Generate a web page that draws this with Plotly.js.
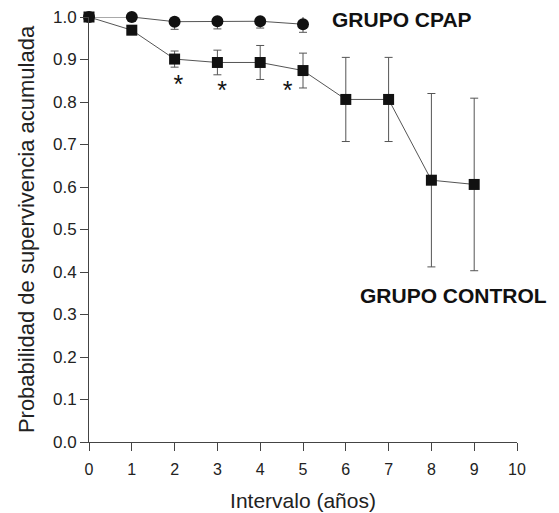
<!DOCTYPE html>
<html><head><meta charset="utf-8">
<script src="https://cdn.plot.ly/plotly-3.0.1.min.js"></script>
<style>body{margin:0;padding:0;background:#fff}</style>
</head><body>
<div id="chart" style="width:559px;height:513px"></div>
<script>
var cpapX = [0, 1, 2, 3, 4, 5];
var cpapY = [1.0, 1.0, 0.989, 0.990, 0.990, 0.983];
var cpapErr = [0, 0, 0.018, 0.018, 0.016, 0.019];

var ctrlX = [0, 1, 2, 3, 4, 5, 6, 7, 8, 9];
var ctrlY = [1.0, 0.969, 0.901, 0.893, 0.893, 0.874, 0.806, 0.806, 0.616, 0.606];
var ctrlErr = [0, 0, 0.019, 0.029, 0.040, 0.041, 0.099, 0.099, 0.204, 0.203];

var starX = [2.09, 3.11, 4.64];
var starY = [0.835, 0.822, 0.822];

var xTicks = [0,1,2,3,4,5,6,7,8,9,10];
var yTicks = [0,0.1,0.2,0.3,0.4,0.5,0.6,0.7,0.8,0.9,1.0];

var lineCol = '#555';
var markCol = '#111';

var traces = [
  {x: cpapX, y: cpapY, mode: 'lines+markers', type: 'scatter', cliponaxis: false,
   line: {color: lineCol, width: 1},
   marker: {symbol: 'circle', size: 12, color: markCol},
   error_y: {type: 'data', array: cpapErr, visible: true, color: lineCol, thickness: 1, width: 4}},
  {x: ctrlX, y: ctrlY, mode: 'lines+markers', type: 'scatter', cliponaxis: false,
   line: {color: lineCol, width: 1},
   marker: {symbol: 'square', size: 11, color: markCol},
   error_y: {type: 'data', array: ctrlErr, visible: true, color: lineCol, thickness: 1, width: 4}},
  {x: starX, y: starY, mode: 'text', type: 'scatter', text: starX.map(function(){return '*';}),
   textfont: {family: 'Liberation Sans, Arial', size: 25, color: '#111'}, cliponaxis: false}
];

var layout = {
  width: 559, height: 513,
  margin: {l: 89, r: 42, t: 17, b: 71},
  paper_bgcolor: '#fff', plot_bgcolor: '#fff',
  showlegend: false,
  font: {family: 'Liberation Sans, Arial, sans-serif', color: '#222'},
  xaxis: {range: [0, 10], tickvals: xTicks, ticktext: xTicks.map(String),
    showgrid: false, zeroline: false, showline: true, linecolor: '#444', linewidth: 1,
    ticks: 'outside', ticklen: 8, tickcolor: '#444', tickfont: {size: 16, color: '#222'},
    ticklabelstandoff: 5,
    title: {text: 'Intervalo (años)', font: {size: 21, color: '#222'}, standoff: 16}},
  yaxis: {range: [0, 1.0], tickvals: yTicks, ticktext: yTicks.map(function(v){return v.toFixed(1);}),
    showgrid: false, zeroline: false, showline: true, linecolor: '#444', linewidth: 1,
    ticks: 'outside', ticklen: 8, tickcolor: '#444', tickfont: {size: 17, color: '#222'},
    title: {text: 'Probabilidad de supervivencia acumulada', font: {size: 22, color: '#222'}, standoff: 12}},
  annotations: [
    {x: 0.9, y: 0.995, xref: 'paper', yref: 'paper', xanchor: 'right', yanchor: 'middle',
     text: '<b>GRUPO CPAP</b>', showarrow: false, font: {size: 21, color: '#111'}},
    {x: 1.075, y: 0.345, xref: 'paper', yref: 'paper', xanchor: 'right', yanchor: 'middle',
     text: '<b>GRUPO CONTROL</b>', showarrow: false, font: {size: 21, color: '#111'}}
  ]
};
Plotly.newPlot('chart', traces, layout, {displayModeBar: false, staticPlot: true});
</script>
</body></html>
